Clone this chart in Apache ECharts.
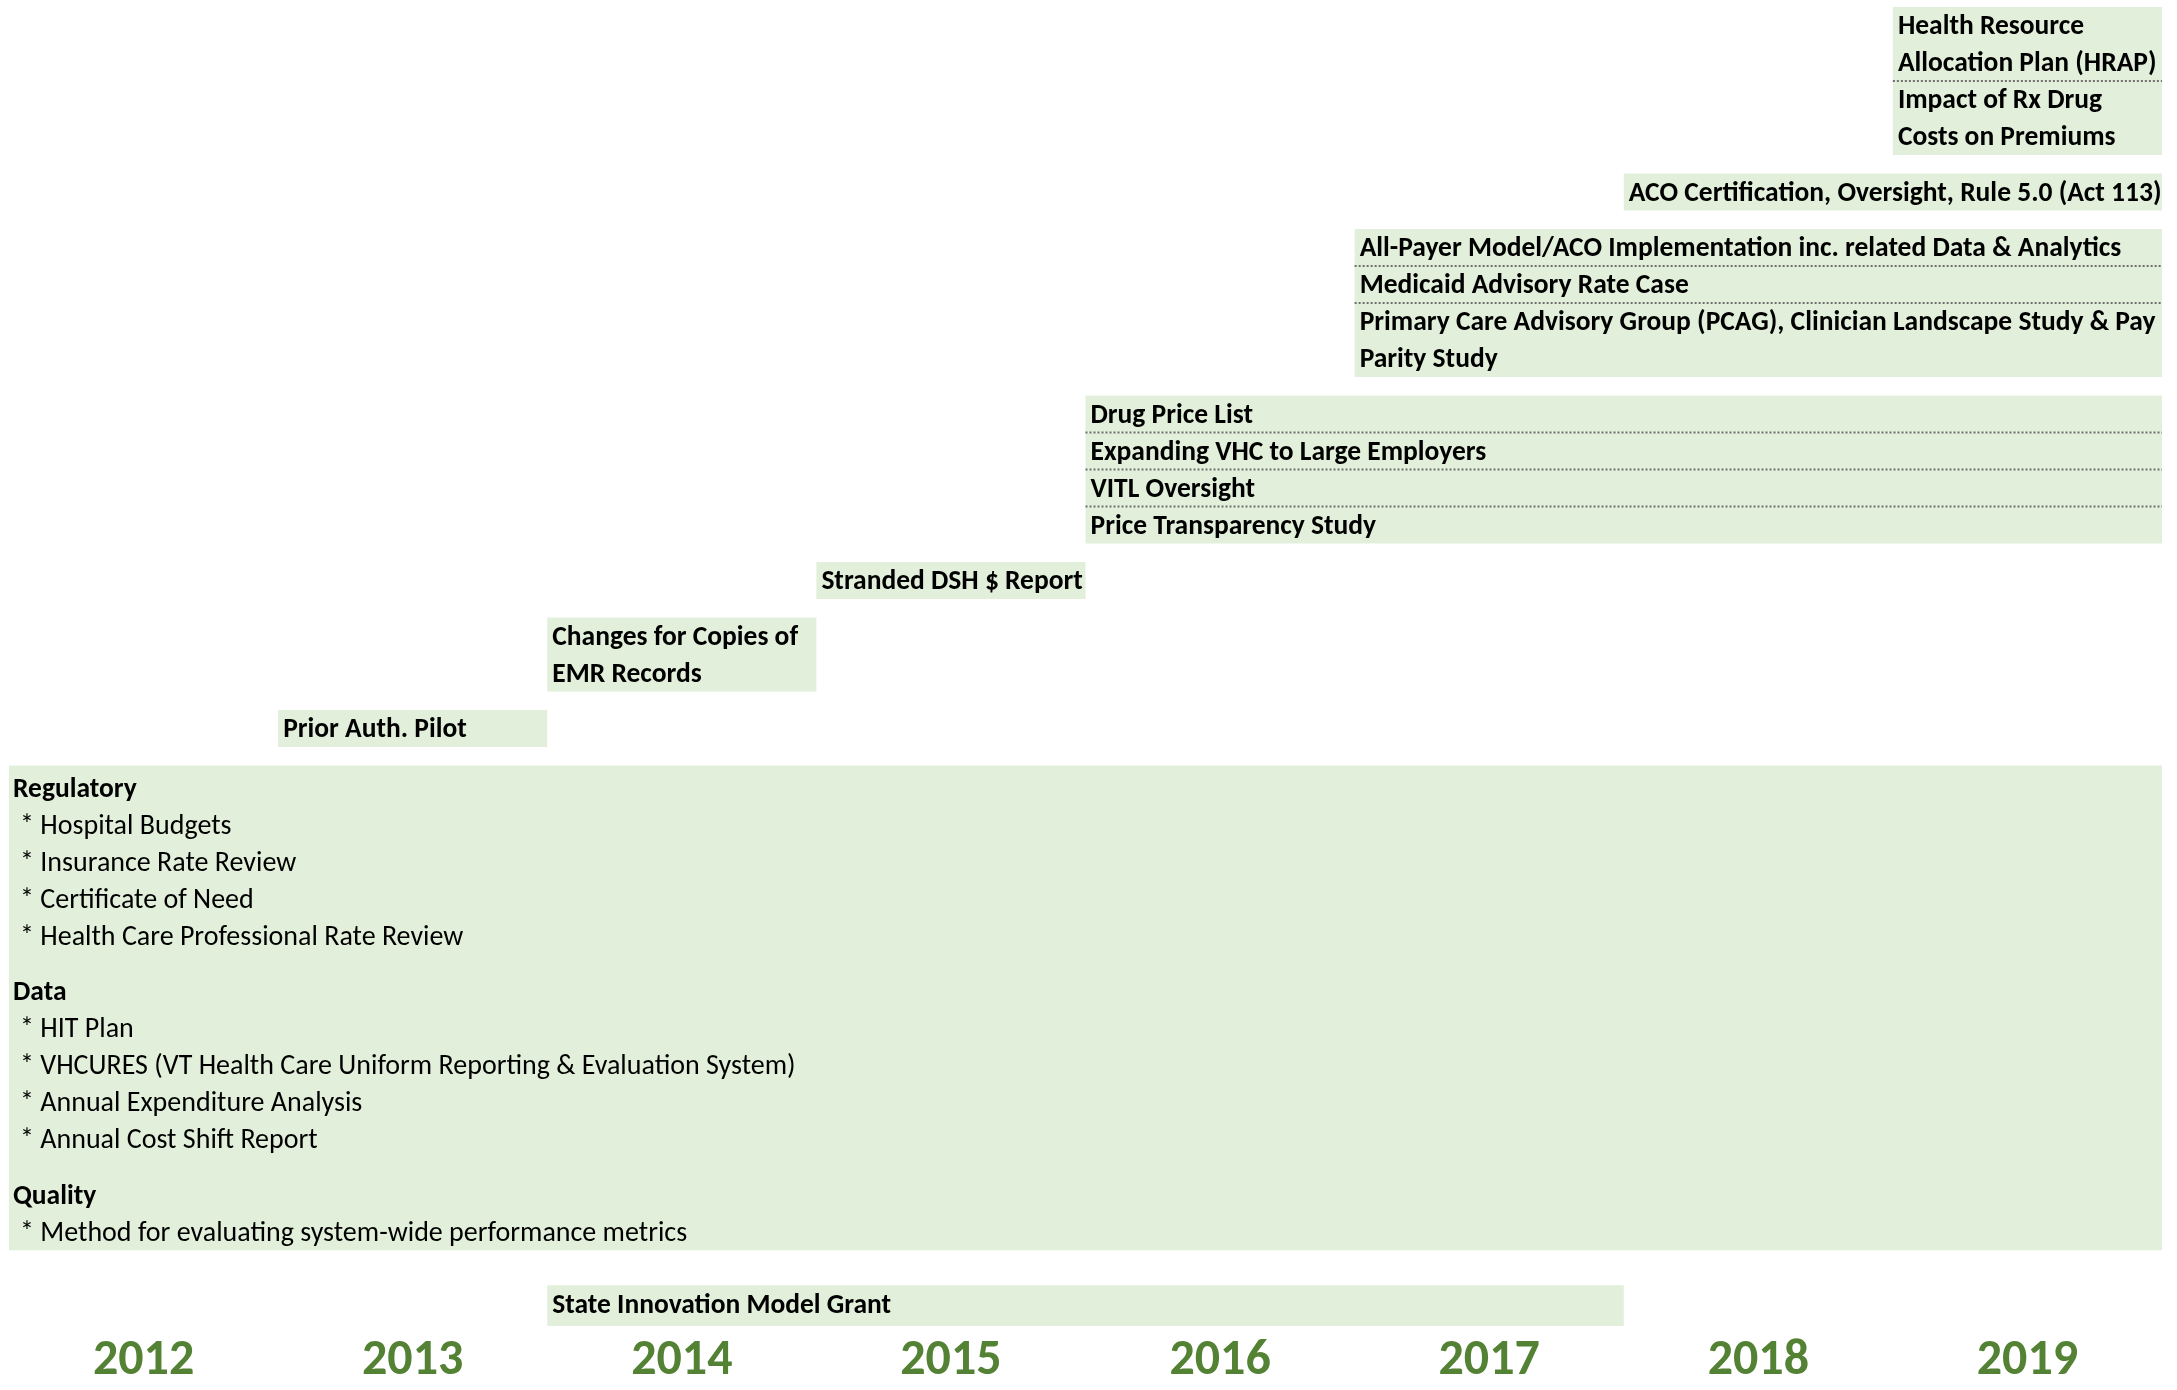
<!DOCTYPE html>
<html>
<head>
<meta charset="utf-8">
<script src="https://cdn.jsdelivr.net/npm/echarts@6/dist/echarts.min.js"></script>
<style>
  html, body { margin: 0; padding: 0; background: #fff; }
  #chart { width: 2177px; height: 1390px; }
</style>
</head>
<body>
<div id="chart"></div>
<script>
var years = ['2012', '2013', '2014', '2015', '2016', '2017', '2018', '2019'];

// project boxes: text lines, start/end (year boundaries), top/bottom (half-line rows)
var boxLabels = [
  ['Health Resource', 'Allocation Plan (HRAP)'],
  ['Impact of Rx Drug', 'Costs on Premiums'],
  ['ACO Certification, Oversight, Rule 5.0 (Act 113)'],
  ['All-Payer Model/ACO Implementation inc. related Data & Analytics'],
  ['Medicaid Advisory Rate Case'],
  ['Primary Care Advisory Group (PCAG), Clinician Landscape Study & Pay', 'Parity Study'],
  ['Drug Price List'],
  ['Expanding VHC to Large Employers'],
  ['VITL Oversight'],
  ['Price Transparency Study'],
  ['Stranded DSH $ Report'],
  ['Changes for Copies of', 'EMR Records'],
  ['Prior Auth. Pilot'],
  ['State Innovation Model Grant']
];
var boxStart  = [2018.5, 2018.5, 2017.5, 2016.5, 2016.5, 2016.5, 2015.5, 2015.5, 2015.5, 2015.5, 2014.5, 2013.5, 2012.5, 2013.5];
var boxEnd    = [2019.5, 2019.5, 2019.5, 2019.5, 2019.5, 2019.5, 2019.5, 2019.5, 2019.5, 2019.5, 2015.5, 2014.5, 2013.5, 2017.5];
var boxTop    = [0, 4, 9, 12, 14, 16, 21, 23, 25, 27, 30, 33, 38, 69.1];
var boxBottom = [4, 8, 11, 14, 16, 20, 23, 25, 27, 29, 32, 37, 40, 71.3];
// box sits directly under the previous one (dotted divider)
var boxJoined = [false, true, false, false, true, true, false, true, true, true, false, false, false, false];

// ongoing core work
var coreSections = [
  { title: 'Regulatory', items: ['Hospital Budgets', 'Insurance Rate Review', 'Certificate of Need', 'Health Care Professional Rate Review'] },
  { title: 'Data', items: ['HIT Plan', 'VHCURES (VT Health Care Uniform Reporting & Evaluation System)', 'Annual Expenditure Analysis', 'Annual Cost Shift Report'] },
  { title: 'Quality', items: ['Method for evaluating system-wide performance metrics'] }
];
var coreSpan = [2011.5, 2019.5, 41, 67.2];

var FILL = '#E2EFDA';
var FONT = 'Carlito, Lato, sans-serif';
var BOLD_SIZE = 27.5;
var TEXT_SIZE = 28;

function renderBox(params, api) {
  var i = api.value(4);
  var p0 = api.coord([api.value(0), api.value(2)]);
  var p1 = api.coord([api.value(1), api.value(3)]);
  var unit = api.size([0, 1])[1];
  var kids = [{
    type: 'rect',
    shape: { x: p0[0], y: p0[1], width: p1[0] - p0[0], height: p1[1] - p0[1] },
    style: { fill: FILL }
  }];
  if (boxJoined[i]) {
    kids.push({
      type: 'line',
      shape: { x1: p0[0], y1: p0[1], x2: p1[0], y2: p0[1] },
      style: { stroke: '#6f6f6f', lineWidth: 2, lineDash: [2, 2] }
    });
  }
  boxLabels[i].forEach(function (t, k) {
    kids.push({
      type: 'text',
      style: {
        text: t, x: p0[0] + 5, y: p0[1] + unit * (2 * k + 1) + 2,
        verticalAlign: 'middle', fill: '#000',
        fontSize: BOLD_SIZE, fontWeight: 'bold', fontFamily: FONT
      }
    });
  });
  return { type: 'group', children: kids };
}

function renderCore(params, api) {
  var p0 = api.coord([api.value(0), api.value(2)]);
  var p1 = api.coord([api.value(1), api.value(3)]);
  var unit = api.size([0, 1])[1];
  var kids = [{
    type: 'rect',
    shape: { x: p0[0], y: p0[1], width: p1[0] - p0[0], height: p1[1] - p0[1] },
    style: { fill: FILL }
  }];
  var y = p0[1] + unit * 1.2 + 2;
  coreSections.forEach(function (sec, s) {
    if (s > 0) y += unit;
    kids.push({
      type: 'text',
      style: { text: sec.title, x: p0[0] + 4, y: y, verticalAlign: 'middle', fill: '#000',
        fontSize: BOLD_SIZE, fontWeight: 'bold', fontFamily: FONT }
    });
    y += unit * 2;
    sec.items.forEach(function (it) {
      kids.push({
        type: 'text',
        style: { text: '* ' + it, x: p0[0] + 11, y: y, verticalAlign: 'middle', fill: '#000',
          fontSize: TEXT_SIZE, fontFamily: FONT }
      });
      y += unit * 2;
    });
  });
  return { type: 'group', children: kids };
}

var boxData = boxLabels.map(function (l, i) {
  return [boxStart[i], boxEnd[i], boxTop[i], boxBottom[i], i];
});

var chart = echarts.init(document.getElementById('chart'));
chart.setOption({
  animation: false,
  grid: { left: 9, right: 15, top: 7, bottom: 64 },
  xAxis: [
    { type: 'value', min: 2011.5, max: 2019.5, show: false },
    {
      type: 'category', data: years, position: 'bottom', boundaryGap: true,
      axisLine: { show: false }, axisTick: { show: false }, splitLine: { show: false },
      axisLabel: { color: '#548235', fontSize: 50, fontWeight: 'bold', fontFamily: FONT, margin: 10 }
    }
  ],
  yAxis: { type: 'value', inverse: true, min: 0, max: 71.3, show: false },
  series: [
    {
      type: 'custom', xAxisIndex: 0, renderItem: renderCore,
      data: [coreSpan], encode: { x: [0, 1], y: [2, 3] }, silent: true
    },
    {
      type: 'custom', xAxisIndex: 0, renderItem: renderBox,
      data: boxData, encode: { x: [0, 1], y: [2, 3] }, silent: true
    }
  ]
});
</script>
</body>
</html>
